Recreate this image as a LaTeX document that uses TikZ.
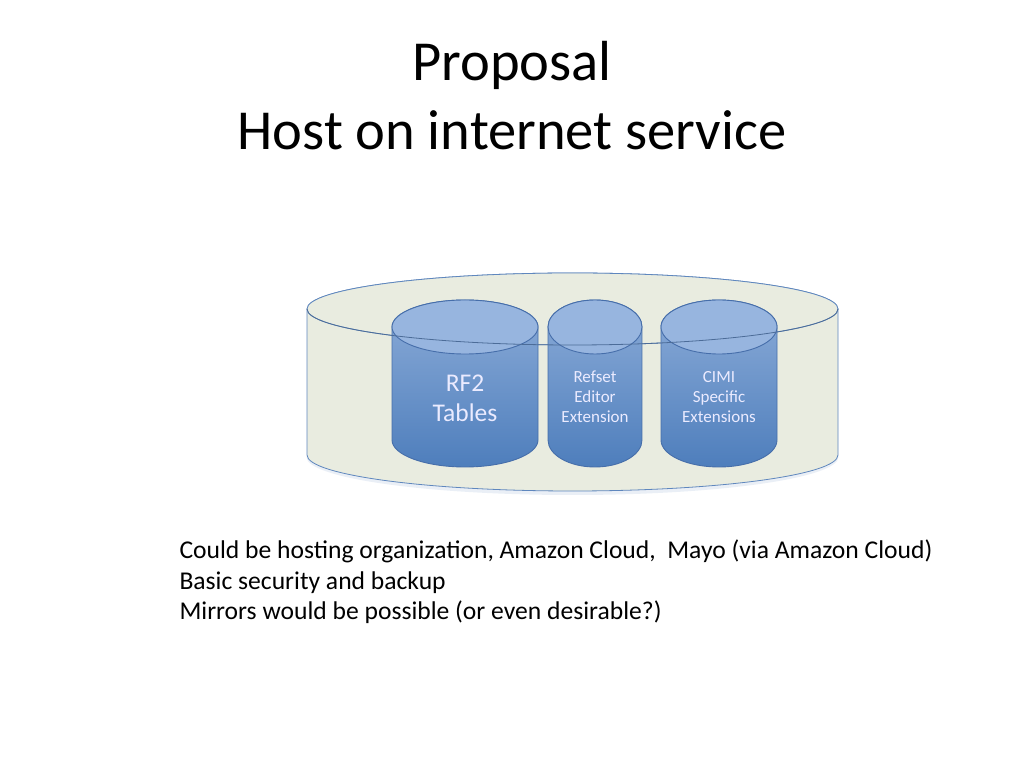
\documentclass[tikz,border=0pt]{standalone}
\usepackage{fontspec}
\setmainfont{Carlito}
\usetikzlibrary{positioning}
\definecolor{tubfill}{RGB}{233,236,224}
\definecolor{tubline}{RGB}{95,135,190}
\definecolor{dbtop}{RGB}{151,181,223}
\definecolor{dbhigh}{RGB}{140,172,216}
\definecolor{dblow}{RGB}{78,126,188}
\definecolor{dbline}{RGB}{70,110,170}
\tikzset{
  tub/.style={fill=tubfill,draw=tubline,line width=0.8pt},
  dbbody/.style={top color=dbhigh,bottom color=dblow,draw=dbline,line width=0.9pt},
  dblid/.style={fill=dbtop,draw=dbline,line width=0.9pt},
  dbtext/.style={text=white!92!blue,align=center,font=\fontsize{17}{20}\selectfont},
  bigtext/.style={dbtext,font=\fontsize{25.5}{30}\selectfont},
  headline/.style={anchor=base,font=\fontsize{56.5}{60}\selectfont},
  bullets/.style={anchor=base west,font=\fontsize{25.6}{30}\selectfont}
}
% #1 centre x, #2 rx, #3 lid y, #4 base y, #5 ry
\newcommand\dbcyl[6]{%
  \path[#6] (#1-#2,#3) -- (#1-#2,#4) arc[start angle=180,end angle=360,x radius=#2,y radius=#5]
    -- (#1+#2,#3) arc[start angle=0,end angle=180,x radius=#2,y radius=#5] -- cycle;
}
\begin{document}
\begin{tikzpicture}[x=1pt,y=1pt]
\useasboundingbox[fill=white] (0,0) rectangle (1024,768);

% title
\node[headline] (title1) at (512,687) {Proposal};
\node[headline] (title2) at (512,618) {Host on internet service};

% outer store
\path[fill=tubline!25,opacity=0.5] (572.5,311) ellipse [x radius=266,y radius=38];
\dbcyl{572.5}{265.5}{459}{313}{36}{tub}
\draw[tub] (572.5,459) ellipse [x radius=265.5,y radius=36];

% inner tables
\foreach \cx/\rx in {465/73, 595/47, 719/58} {
  \dbcyl{\cx}{\rx}{441}{328}{27}{dbbody}
  \draw[dblid] (\cx,441) ellipse [x radius=\rx,y radius=27];
}

% front rim of the outer lid, seen through the tables
\draw[tubline!80!black,line width=0.8pt] (307,459) arc[start angle=180,end angle=360,x radius=265.5,y radius=36];

\node[bigtext] (rf2) at (465,370) {RF2\\Tables};
\node[dbtext] (refset) at (595,371) {Refset\\Editor\\Extension};
\node[dbtext] (cimi) at (719,371) {CIMI\\Specific\\Extensions};

% notes
\node[bullets] (note1) at (176,209) {Could be hosting organization, Amazon Cloud,~ Mayo (via Amazon Cloud)};
\node[bullets] (note2) at (176,178.5) {Basic security and backup};
\node[bullets] (note3) at (176,148) {Mirrors would be possible (or even desirable?)};
\end{tikzpicture}
\end{document}
